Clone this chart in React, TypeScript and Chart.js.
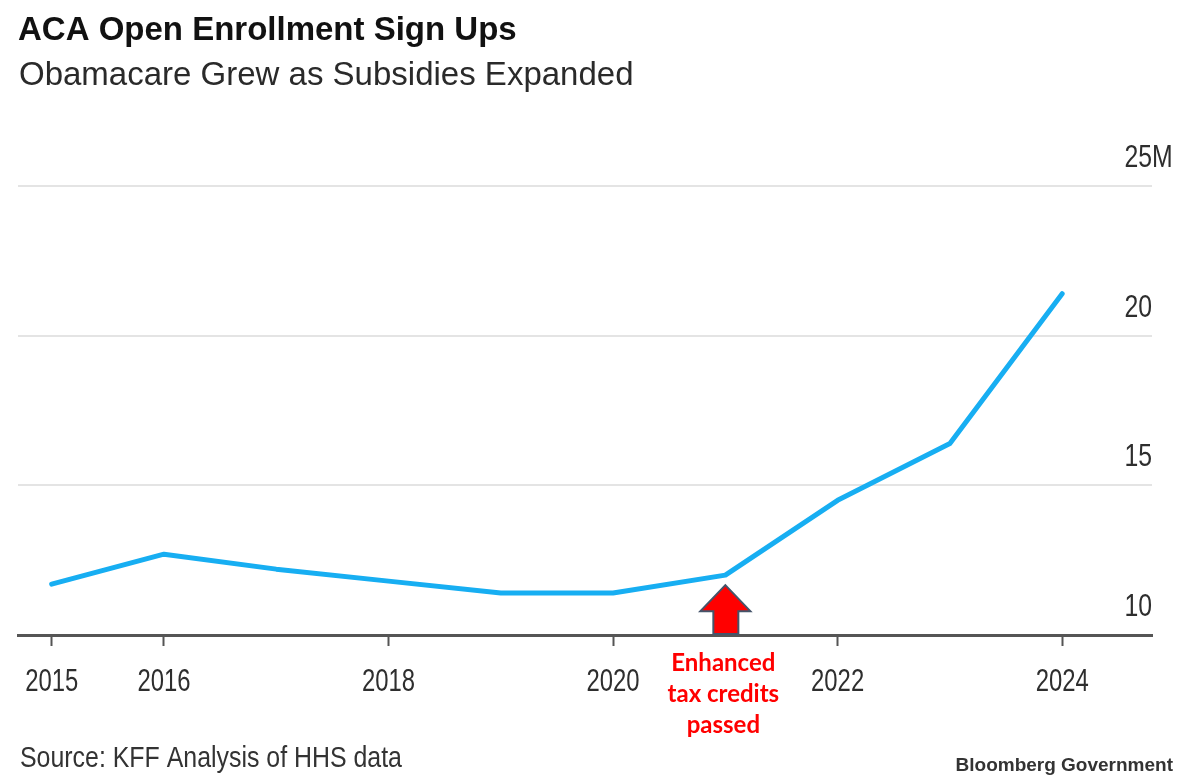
import React, { useEffect, useRef } from "react";
import { Chart, registerables } from "chart.js";

Chart.register(...registerables);

const YEARS = [2015, 2016, 2017, 2018, 2019, 2020, 2021, 2022, 2023, 2024];
const SIGNUPS = [11.7, 12.7, 12.2, 11.8, 11.4, 11.4, 12.0, 14.5, 16.4, 21.4];
const X_TICKS = [2015, 2016, 2018, 2020, 2022, 2024];
const Y_TICKS = [10, 15, 20, 25];
const Y_LABELS = ["10", "15", "20", "25M"];
const TITLE = "ACA Open Enrollment Sign Ups";
const SUBTITLE = "Obamacare Grew as Subsidies Expanded";
const SOURCE = "Source: KFF Analysis of HHS data";
const BRAND = "Bloomberg Government";
const NOTE_YEAR = 2021;
const NOTE_LINES = ["Enhanced", "tax credits", "passed"];

const SANS = "'Liberation Sans', Arial, sans-serif";

const W = 1199;
const H = 776;

function condensedText(
  ctx: CanvasRenderingContext2D,
  text: string,
  x: number,
  y: number,
  sx: number,
  align: CanvasTextAlign,
  baseline: CanvasTextBaseline
) {
  ctx.save();
  ctx.translate(x, y);
  ctx.scale(sx, 1);
  ctx.textAlign = align;
  ctx.textBaseline = baseline;
  ctx.fillText(text, 0, 0);
  ctx.restore();
}

const decorPlugin = {
  id: "decor",
  afterDraw(chart: any) {
    const ctx = chart.ctx as CanvasRenderingContext2D;
    const xs = chart.scales.x;
    const ys = chart.scales.y;
    const area = chart.chartArea;
    ctx.save();
    // titles
    ctx.textAlign = "left";
    ctx.textBaseline = "alphabetic";
    ctx.fillStyle = "#111";
    ctx.font = `bold 33px ${SANS}`;
    ctx.fillText(TITLE, 18, 40);
    ctx.fillStyle = "#2a2a2a";
    ctx.font = `33px ${SANS}`;
    ctx.fillText(SUBTITLE, 19, 85);

    // x tick labels (condensed)
    ctx.fillStyle = "#2e2e2e";
    ctx.font = `31px ${SANS}`;
    xs.ticks.forEach((t: any) => {
      condensedText(ctx, String(t.value), xs.getPixelForValue(t.value), 691, 0.77, "center", "alphabetic");
    });

    // y tick labels above gridlines
    ys.ticks.forEach((t: any) => {
      const i = Y_TICKS.indexOf(t.value);
      if (i < 0) return;
      const lbl = Y_LABELS[i];
      const py = ys.getPixelForValue(t.value) - 19;
      if (lbl.endsWith("M")) {
        condensedText(ctx, lbl.slice(0, -1), area.right, py, 0.8, "right", "alphabetic");
        condensedText(ctx, "M", area.right, py, 0.8, "left", "alphabetic");
      } else {
        condensedText(ctx, lbl, area.right, py, 0.8, "right", "alphabetic");
      }
    });

    // source & brand
    ctx.fillStyle = "#333";
    ctx.font = `30px ${SANS}`;
    condensedText(ctx, SOURCE, 20, 767, 0.83, "left", "alphabetic");
    ctx.textAlign = "right";
    ctx.textBaseline = "alphabetic";
    ctx.fillStyle = "#333";
    ctx.font = `bold 19px ${SANS}`;
    ctx.fillText(BRAND, 1173, 771);

    // arrow
    const idx = YEARS.indexOf(NOTE_YEAR);
    const ax = xs.getPixelForValue(NOTE_YEAR);
    const tipY = ys.getPixelForValue(SIGNUPS[idx]) + 10;
    const baseY = ys.getPixelForValue(10) - 1;
    const headY = tipY + 26;
    ctx.beginPath();
    ctx.moveTo(ax, tipY);
    ctx.lineTo(ax + 25, headY);
    ctx.lineTo(ax + 13, headY);
    ctx.lineTo(ax + 13, baseY);
    ctx.lineTo(ax - 12, baseY);
    ctx.lineTo(ax - 12, headY);
    ctx.lineTo(ax - 25, headY);
    ctx.closePath();
    ctx.fillStyle = "#ff0000";
    ctx.fill();
    ctx.lineWidth = 2;
    ctx.strokeStyle = "#44546a";
    ctx.lineJoin = "miter";
    ctx.stroke();

    // annotation text
    ctx.textAlign = "center";
    ctx.textBaseline = "middle";
    ctx.fillStyle = "#ff0000";
    ctx.font = `bold 24px Lato, 'Open Sans', sans-serif`;
    NOTE_LINES.forEach((t, i) => {
      ctx.fillText(t, ax - 2, 663 + i * 31);
    });
    ctx.restore();
  },
};

export default function App() {
  const ref = useRef<HTMLCanvasElement | null>(null);
  useEffect(() => {
    if (!ref.current) return;
    const chart = new Chart(ref.current, {
      type: "line",
      data: {
        datasets: [
          {
            data: YEARS.map((y, i) => ({ x: y, y: SIGNUPS[i] })),
            borderColor: "#17aef2",
            borderWidth: 5,
            borderCapStyle: "round",
            borderJoinStyle: "round",
            pointRadius: 0,
            tension: 0,
            fill: false,
          },
        ],
      },
      options: {
        responsive: false,
        animation: false,
        devicePixelRatio: 1,
        layout: { padding: { left: 18, right: 0, top: 186, bottom: 41 } },
        plugins: {
          legend: { display: false },
          tooltip: { enabled: false },
          title: { display: false },
        },
        scales: {
          x: {
            type: "linear",
            min: 2014.7,
            max: 2024.8,
            afterBuildTicks: (s: any) => {
              s.ticks = X_TICKS.map((v) => ({ value: v }));
            },
            afterFit: (s: any) => {
              s.height = 100;
            },
            border: { display: true, color: "#555", width: 3 },
            grid: {
              drawOnChartArea: false,
              drawTicks: true,
              tickLength: 11,
              tickColor: "#555",
              tickWidth: 2,
              color: "#555",
            },
            ticks: { display: false },
          },
          y: {
            type: "linear",
            position: "right",
            min: 10,
            max: 25,
            afterBuildTicks: (s: any) => {
              s.ticks = Y_TICKS.map((v) => ({ value: v }));
            },
            afterFit: (s: any) => {
              s.width = W - 1152;
            },
            border: { display: false },
            grid: {
              drawTicks: false,
              color: (c: any) => (c.tick && c.tick.value === 10 ? "rgba(0,0,0,0)" : "#e4e4e4"),
              lineWidth: 2,
            },
            ticks: { display: false },
          },
        },
      },
      plugins: [decorPlugin],
    } as any);
    return () => chart.destroy();
  }, []);
  return (
    <div style={{ position: "absolute", left: 0, top: 0, width: W, height: H, background: "#fff" }}>
      <canvas ref={ref} width={W} height={H} style={{ display: "block" }} />
    </div>
  );
}
